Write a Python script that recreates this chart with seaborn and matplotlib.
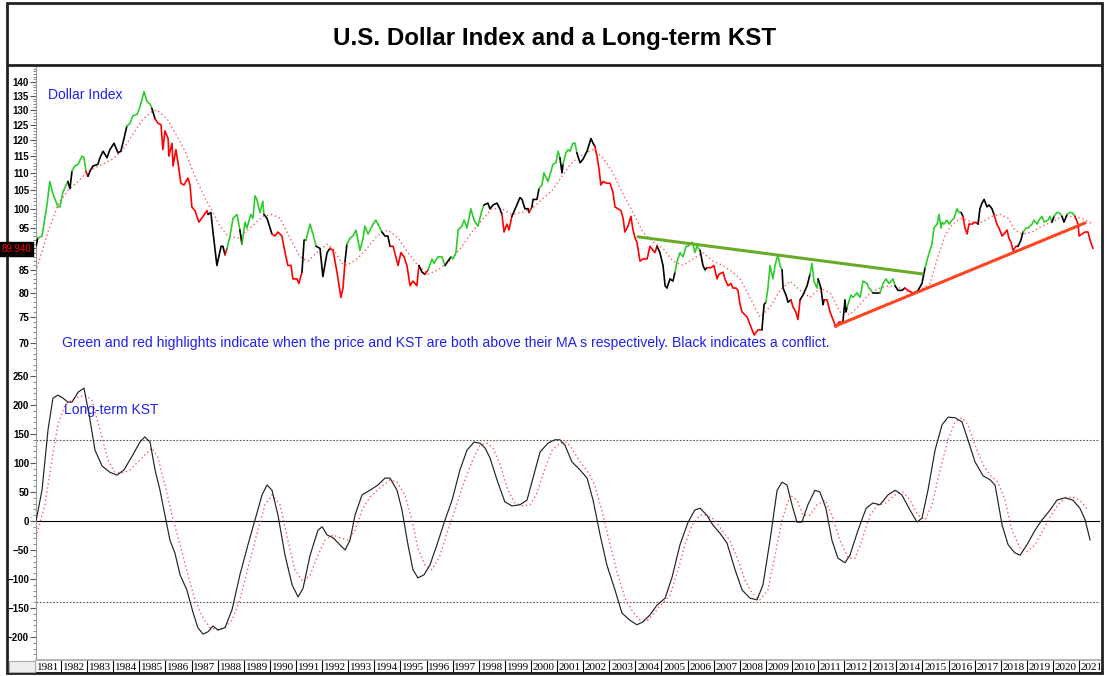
import matplotlib
matplotlib.use("Agg")
import matplotlib.pyplot as plt
from matplotlib.patches import Rectangle
from matplotlib.lines import Line2D
from matplotlib.ticker import FixedLocator, FixedFormatter, NullFormatter
import seaborn as sns

# DATA
price_year = [
    1981.04, 1981.11, 1981.27, 1981.46, 1981.57, 1981.69, 1981.88, 1981.96, 1982.07, 1982.26,
    1982.34, 1982.42, 1982.53, 1982.65, 1982.80, 1982.88, 1982.95, 1983.03, 1983.11, 1983.22,
    1983.41, 1983.49, 1983.61, 1983.76, 1983.87, 1984.03, 1984.18, 1984.29, 1984.41, 1984.52,
    1984.64, 1984.75, 1984.91, 1985.02, 1985.18, 1985.29, 1985.41, 1985.48, 1985.60, 1985.71,
    1985.83, 1985.90, 1985.98, 1986.10, 1986.13, 1986.25, 1986.29, 1986.40, 1986.48, 1986.59,
    1986.71, 1986.86, 1986.94, 1987.01, 1987.13, 1987.28, 1987.44, 1987.59, 1987.63, 1987.74,
    1987.82, 1987.97, 1988.13, 1988.20, 1988.28, 1988.36, 1988.47, 1988.59, 1988.74, 1988.85,
    1988.93, 1989.05, 1989.12, 1989.27, 1989.35, 1989.43, 1989.50, 1989.62, 1989.73, 1989.77,
    1989.89, 1989.96, 1990.08, 1990.19, 1990.31, 1990.46, 1990.58, 1990.69, 1990.81, 1990.88,
    1991.04, 1991.11, 1991.23, 1991.31, 1991.38, 1991.54, 1991.65, 1991.77, 1991.92, 1992.03,
    1992.19, 1992.30, 1992.42, 1992.57, 1992.72, 1992.80, 1992.88, 1992.95, 1993.07, 1993.18,
    1993.30, 1993.45, 1993.57, 1993.64, 1993.76, 1993.95, 1994.06, 1994.18, 1994.29, 1994.41,
    1994.52, 1994.60, 1994.72, 1994.91, 1995.02, 1995.14, 1995.25, 1995.37, 1995.48, 1995.63,
    1995.71, 1995.83, 1995.94, 1996.06, 1996.21, 1996.29, 1996.44, 1996.59, 1996.71, 1996.82,
    1996.94, 1997.01, 1997.13, 1997.21, 1997.36, 1997.44, 1997.55, 1997.70, 1997.82, 1997.97,
    1998.12, 1998.20, 1998.35, 1998.43, 1998.55, 1998.70, 1998.81, 1998.89, 1998.97, 1999.08,
    1999.16, 1999.27, 1999.43, 1999.58, 1999.66, 1999.77, 1999.89, 1999.93, 2000.04, 2000.08,
    2000.23, 2000.31, 2000.42, 2000.50, 2000.65, 2000.77, 2000.84, 2000.96, 2001.04, 2001.11,
    2001.19, 2001.23, 2001.34, 2001.42, 2001.50, 2001.61, 2001.69, 2001.76, 2001.88, 2001.99,
    2002.15, 2002.30, 2002.38, 2002.45, 2002.53, 2002.61, 2002.68, 2002.76, 2002.91, 2003.03,
    2003.14, 2003.22, 2003.33, 2003.45, 2003.53, 2003.60, 2003.72, 2003.83, 2003.91, 2003.99,
    2004.06, 2004.18, 2004.29, 2004.45, 2004.56, 2004.68, 2004.75, 2004.83, 2004.94, 2005.06,
    2005.14, 2005.21, 2005.33, 2005.44, 2005.52, 2005.60, 2005.71, 2005.83, 2005.94, 2006.02,
    2006.17, 2006.21, 2006.28, 2006.36, 2006.48, 2006.59, 2006.67, 2006.74, 2006.90, 2007.01,
    2007.13, 2007.20, 2007.36, 2007.43, 2007.55, 2007.66, 2007.74, 2007.86, 2007.93, 2008.01,
    2008.09, 2008.28, 2008.47, 2008.55, 2008.70, 2008.85, 2008.93, 2009.00, 2009.08, 2009.16,
    2009.27, 2009.35, 2009.46, 2009.54, 2009.62, 2009.66, 2009.77, 2009.85, 2009.96, 2010.04,
    2010.15, 2010.23, 2010.31, 2010.42, 2010.58, 2010.69, 2010.77, 2010.84, 2010.96, 2011.00,
    2011.11, 2011.19, 2011.23, 2011.34, 2011.46, 2011.57, 2011.69, 2011.80, 2011.95, 2012.03,
    2012.07, 2012.11, 2012.26, 2012.34, 2012.49, 2012.61, 2012.72, 2012.87, 2012.95, 2013.10,
    2013.26, 2013.37, 2013.49, 2013.60, 2013.72, 2013.87, 2013.95, 2014.06, 2014.21, 2014.33,
    2014.45, 2014.60, 2014.71, 2014.83, 2014.98, 2015.10, 2015.21, 2015.36, 2015.44, 2015.56,
    2015.63, 2015.71, 2015.75, 2015.82, 2015.94, 2016.02, 2016.13, 2016.21, 2016.32, 2016.40,
    2016.48, 2016.55, 2016.63, 2016.71, 2016.78, 2016.90, 2017.01, 2017.13, 2017.20, 2017.28,
    2017.36, 2017.47, 2017.55, 2017.66, 2017.74, 2017.85, 2017.93, 2018.05, 2018.12, 2018.24,
    2018.31, 2018.39, 2018.47, 2018.58, 2018.66, 2018.77, 2018.85, 2018.97, 2019.04, 2019.20,
    2019.27, 2019.39, 2019.46, 2019.58, 2019.66, 2019.81, 2019.88, 2019.96, 2020.04, 2020.15,
    2020.23, 2020.34, 2020.42, 2020.54, 2020.65, 2020.73, 2020.84, 2020.96, 2021.00, 2021.11,
    2021.23, 2021.34, 2021.42, 2021.53,
]
price_val = [
    90.5, 92.5, 93, 101, 107.5, 104, 100.5, 100.5, 104.5, 107.5,
    105.5, 110.5, 112, 112.5, 115, 114.5, 110.5, 109, 110.5, 112,
    112.5, 114.5, 116.5, 114.5, 117, 119, 116, 116.5, 120.5, 124.5,
    125.5, 128, 128.5, 131, 136.5, 133, 132, 130.5, 127, 125.5,
    125, 117, 123, 120.5, 115, 119, 112, 117, 113, 107,
    106.5, 108.5, 106.5, 100.5, 99.5, 96.5, 98, 99.5, 98.5, 99,
    94, 86, 90.5, 90.5, 88.5, 90, 93, 97.5, 98.5, 94.5,
    91, 96.5, 95, 98.5, 97.5, 103.5, 102.5, 99, 102, 98.5,
    97.5, 96, 93.5, 93, 94, 93, 89, 86, 86, 83,
    83, 82, 84.5, 92, 92, 96, 93.5, 90.5, 90, 83.5,
    89, 90, 89.5, 84.5, 79, 81, 87, 91, 92.5, 93,
    94.5, 89.5, 92.5, 95.5, 93.5, 96, 97, 95.5, 94, 93,
    93, 90.5, 90.5, 86, 89, 88, 86, 81.5, 82.5, 81.5,
    86, 84.5, 84, 85, 87.5, 86.5, 88, 88, 86, 87,
    88, 87.5, 89, 94.5, 95.5, 97, 95, 100, 97, 95.5,
    99.5, 101, 101.5, 100, 101, 101.5, 100, 98.5, 94, 96,
    94.5, 98, 100.5, 103, 102.5, 100, 100, 99, 100.5, 102.5,
    102.5, 105.5, 106.5, 110, 107.5, 110.5, 112.5, 113, 116.5, 114.5,
    110, 112.5, 116, 117, 116.5, 119, 119, 116, 113, 114,
    116.5, 120.5, 119, 118, 115, 111, 106.5, 107.5, 107, 107,
    104.5, 100.5, 100, 99.5, 97.5, 94, 95.5, 98, 94.5, 92.5,
    91.5, 87, 87.5, 87.5, 90.5, 89.5, 89, 90.5, 89, 86,
    81.5, 81, 83, 82.5, 84.5, 87, 89, 88, 90.5, 90.5,
    91.5, 91, 89, 90.5, 89.5, 86, 85, 85.5, 85.5, 86,
    83, 84, 84.5, 83, 81.5, 82, 81, 81, 80.5, 77.5,
    76, 75, 72.5, 71.5, 72.5, 72.5, 77.5, 78, 81, 86,
    83, 86, 88.5, 86, 85, 81, 79.5, 78, 78.5, 77,
    76, 74.5, 78.5, 79.5, 81.5, 84, 86.5, 82.5, 81, 83,
    81, 77.5, 78.5, 78.5, 76, 74.5, 73, 74, 74, 78.5,
    76, 77, 79.5, 79, 80, 79, 82.5, 82, 81, 80,
    80, 80, 82, 83, 82, 83, 81.5, 80.5, 80.5, 81,
    80.5, 80, 80, 80.5, 82, 85.5, 88, 91, 95, 96,
    98.5, 95, 96.5, 96, 97, 96, 97, 97.5, 100, 99,
    99, 98, 95, 93.5, 96, 96, 96.5, 96, 100, 101.5,
    102.5, 100.5, 101, 100, 98.5, 96, 95, 93, 93.5, 94.5,
    92.5, 91.5, 89.5, 90.5, 90.5, 92, 94, 95, 95, 96,
    97, 96, 97, 98, 96.5, 97, 98, 96.5, 98, 99,
    99, 98, 96.5, 98.5, 99, 99, 98, 96, 93, 93.5,
    94, 94, 92, 90,
]
# g = price and KST both above their MAs, r = both below, k = conflict
price_col = list(
    "kggggggggk" "kgggggrkkk" "kkkkkkkkkg" "gggggggkrr" "rrrrrrrrrr"
    "rrrrrrrrkk" "kkkkrggggk" "gggggggggk" "kkrrrrrrrr" "rrkkgggkkk"
    "krrrrrkggg" "ggggggggkk" "krrrrrrrrr" "kkrgggggkk" "gggggggggg"
    "gkkkkkkrrr" "rkkkkkkrkk" "kggggggggk" "kggggggkkk" "kkkrrrrrrr"
    "rrrrrrrrrr" "rrrrrrrkkk" "kkkkgggggg" "ggggkkkrrr" "rrrrrrrrrr"
    "rrrrrkkggg" "ggggkkkkrr" "rrkkkggggk" "kkrrrrrrkk" "kggggggggk"
    "kgggggkkkr" "rrkkkggggg" "gggggggggg" "krrrrrrkkk" "kkkkrrrrrr"
    "rrrrkkgggg" "gggggggkgg" "gkkgggrrrr" "rrrr"
)

ma_year = [
    1981.08, 1981.50, 1981.88, 1982.26, 1982.65, 1983.03, 1983.57, 1983.95, 1984.33, 1984.72,
    1985.10, 1985.48, 1985.67, 1986.06, 1986.36, 1986.75, 1987.13, 1987.51, 1987.70, 1988.09,
    1988.39, 1988.78, 1989.24, 1989.73, 1990.08, 1990.39, 1990.77, 1991.15, 1991.46, 1991.80,
    1992.19, 1992.42, 1992.76, 1992.95, 1993.34, 1993.72, 1994.10, 1994.52, 1994.91, 1995.29,
    1995.67, 1996.06, 1996.44, 1996.98, 1997.36, 1997.74, 1998.12, 1998.51, 1998.89, 1999.27,
    1999.66, 2000.04, 2000.42, 2000.81, 2001.19, 2001.50, 2001.88, 2002.38, 2002.76, 2003.14,
    2003.53, 2003.91, 2004.29, 2004.68, 2005.06, 2005.44, 2005.83, 2006.21, 2006.59, 2006.97,
    2007.36, 2007.74, 2008.01, 2008.39, 2008.77, 2009.16, 2009.54, 2009.93, 2010.31, 2010.69,
    2011.07, 2011.46, 2011.84, 2012.22, 2012.61, 2012.99, 2013.37, 2013.76, 2014.14, 2014.52,
    2014.90, 2015.29, 2015.59, 2015.86, 2016.13, 2016.51, 2016.90, 2017.28, 2017.66, 2017.97,
    2018.28, 2018.54, 2018.81, 2019.20, 2019.58, 2019.96, 2020.34, 2020.73, 2021.11, 2021.53,
]
ma_val = [
    85.5, 94, 101, 105, 107.5, 110.5, 112.5, 114, 116.5, 121.5,
    126.5, 129.5, 130, 127, 122.5, 116.5, 109, 103, 100.5, 95.5,
    93, 92.5, 95, 98, 98.5, 97.5, 92.5, 88, 87, 89,
    91, 90, 86.5, 86, 87.5, 90, 93, 94.5, 92.5, 89,
    86, 84, 85, 87.5, 90.5, 94, 97, 100, 100, 98.5,
    99, 100, 102.5, 105, 109, 112.5, 115, 117, 114.5, 110,
    104, 99, 94, 91.5, 90, 87, 86, 87.5, 89, 87,
    86, 84.5, 83, 79, 75, 77, 80.5, 82.5, 80.5, 79,
    81, 80, 76, 75.5, 77.5, 80, 81, 81.5, 81, 80,
    80.5, 82, 88, 93, 96, 97.5, 96.5, 96.5, 98, 98.5,
    97.5, 94.5, 93.5, 94, 95.5, 96.5, 98, 98, 97.5, 96,
]

kst_year = [
    1981.04, 1981.27, 1981.50, 1981.69, 1981.88, 1982.07, 1982.26, 1982.42, 1982.65, 1982.88,
    1983.11, 1983.30, 1983.57, 1983.87, 1984.14, 1984.41, 1984.75, 1985.02, 1985.21, 1985.41,
    1985.60, 1985.79, 1985.98, 1986.17, 1986.36, 1986.56, 1986.82, 1987.05, 1987.24, 1987.44,
    1987.63, 1987.82, 1988.01, 1988.28, 1988.55, 1988.85, 1989.16, 1989.43, 1989.70, 1989.89,
    1990.08, 1990.31, 1990.58, 1990.85, 1991.08, 1991.27, 1991.54, 1991.84, 1992.00, 1992.19,
    1992.42, 1992.68, 1992.88, 1993.07, 1993.26, 1993.53, 1993.83, 1994.14, 1994.41, 1994.60,
    1994.87, 1995.06, 1995.29, 1995.48, 1995.67, 1995.90, 1996.13, 1996.40, 1996.71, 1996.98,
    1997.28, 1997.55, 1997.82, 1998.05, 1998.24, 1998.43, 1998.70, 1999.00, 1999.27, 1999.58,
    1999.85, 2000.08, 2000.35, 2000.65, 2000.92, 2001.11, 2001.30, 2001.57, 2001.88, 2002.15,
    2002.38, 2002.65, 2002.91, 2003.22, 2003.49, 2003.79, 2004.06, 2004.29, 2004.56, 2004.83,
    2005.14, 2005.40, 2005.71, 2006.02, 2006.28, 2006.48, 2006.74, 2006.97, 2007.24, 2007.51,
    2007.82, 2008.09, 2008.39, 2008.66, 2008.89, 2009.16, 2009.43, 2009.62, 2009.81, 2010.00,
    2010.19, 2010.38, 2010.61, 2010.88, 2011.07, 2011.30, 2011.53, 2011.76, 2012.03, 2012.22,
    2012.53, 2012.84, 2013.10, 2013.37, 2013.68, 2013.95, 2014.21, 2014.52, 2014.79, 2014.98,
    2015.21, 2015.48, 2015.75, 2015.98, 2016.25, 2016.51, 2016.74, 2017.01, 2017.32, 2017.59,
    2017.78, 2018.05, 2018.28, 2018.54, 2018.74, 2019.00, 2019.31, 2019.58, 2019.89, 2020.15,
    2020.46, 2020.76, 2021.03, 2021.23, 2021.42,
]
kst_val = [
    0, 53, 157, 212, 217, 212, 205, 205, 222, 229,
    174, 122, 95, 84, 79, 88, 114, 136, 145, 136,
    88, 53, 10, -33, -55, -93, -119, -157, -184, -195,
    -191, -181, -188, -184, -153, -93, -41, 2, 45, 62,
    53, 10, -59, -110, -131, -116, -59, -16, -10, -24,
    -29, -41, -50, -33, 10, 45, 53, 62, 74, 74,
    53, 19, -41, -84, -98, -93, -76, -41, 2, 36,
    88, 122, 136, 134, 126, 109, 71, 33, 26, 28,
    36, 74, 119, 134, 140, 140, 131, 102, 88, 74,
    36, -24, -76, -119, -159, -171, -179, -174, -162, -145,
    -133, -98, -41, -2, 19, 22, 10, -7, -21, -38,
    -84, -119, -133, -136, -110, -33, 53, 67, 62, 28,
    -2, -2, 28, 53, 50, 22, -33, -64, -72, -59,
    -16, 22, 31, 28, 45, 53, 45, 19, -2, 5,
    53, 122, 166, 179, 178, 171, 140, 102, 78, 71,
    62, -7, -41, -55, -59, -41, -16, 2, 19, 36,
    40, 36, 22, 2, -33,
]

kstma_year = [
    1981.04, 1981.38, 1981.65, 1981.88, 1982.15, 1982.53, 1982.92, 1983.18, 1983.49, 1983.80,
    1984.06, 1984.37, 1984.64, 1984.95, 1985.21, 1985.48, 1985.71, 1985.98, 1986.25, 1986.56,
    1986.86, 1987.13, 1987.44, 1987.70, 1988.01, 1988.28, 1988.55, 1988.85, 1989.24, 1989.54,
    1989.81, 1990.08, 1990.39, 1990.69, 1990.96, 1991.27, 1991.54, 1991.84, 1992.11, 1992.42,
    1992.68, 1992.99, 1993.26, 1993.53, 1993.83, 1994.22, 1994.60, 1994.87, 1995.17, 1995.44,
    1995.67, 1995.94, 1996.21, 1996.52, 1996.82, 1997.09, 1997.40, 1997.74, 1998.05, 1998.32,
    1998.55, 1998.82, 1999.12, 1999.39, 1999.70, 1999.97, 2000.23, 2000.54, 2000.81, 2001.11,
    2001.38, 2001.61, 2001.88, 2002.19, 2002.45, 2002.76, 2003.03, 2003.33, 2003.60, 2003.91,
    2004.18, 2004.48, 2004.75, 2005.06, 2005.33, 2005.64, 2005.90, 2006.17, 2006.48, 2006.74,
    2007.05, 2007.32, 2007.62, 2007.93, 2008.20, 2008.47, 2008.77, 2009.08, 2009.35, 2009.62,
    2009.93, 2010.19, 2010.42, 2010.69, 2010.96, 2011.27, 2011.53, 2011.84, 2012.15, 2012.42,
    2012.68, 2012.99, 2013.30, 2013.60, 2013.95, 2014.25, 2014.52, 2014.83, 2015.10, 2015.37,
    2015.67, 2015.98, 2016.25, 2016.51, 2016.74, 2017.01, 2017.32, 2017.59, 2017.89, 2018.16,
    2018.43, 2018.74, 2019.00, 2019.31, 2019.62, 2019.89, 2020.19, 2020.50, 2020.76, 2021.03,
    2021.34,
]
kstma_val = [
    -28, 28, 105, 166, 200, 212, 217, 209, 157, 105,
    84, 83, 88, 102, 114, 126, 109, 62, 10, -41,
    -93, -136, -167, -184, -188, -183, -171, -136, -67, -16,
    28, 45, 28, -33, -84, -105, -93, -59, -33, -24,
    -29, -33, -16, 19, 41, 57, 71, 67, 45, 2,
    -47, -76, -84, -59, -16, 19, 62, 102, 131, 134,
    126, 97, 53, 31, 26, 28, 48, 91, 122, 134,
    136, 122, 102, 84, 62, 10, -41, -93, -133, -157,
    -171, -171, -157, -141, -128, -84, -41, -7, 10, 10,
    2, -16, -33, -67, -102, -124, -136, -119, -59, 2,
    45, 36, 10, 10, 28, 36, 10, -33, -64, -64,
    -33, 10, 28, 31, 45, 50, 36, 10, 2, 28,
    88, 140, 171, 178, 166, 131, 97, 79, 67, 36,
    -16, -47, -53, -41, -16, 7, 28, 40, 41, 36,
    19,
]

# hand-drawn trend lines on the price panel
green_tl_year = [2004.10, 2014.99]
green_tl_val = [92.8, 84.1]
red_tl_year = [2011.65, 2021.23]
red_tl_val = [73.2, 96.3]

kst_bands = [140, -140]
price_ticks = list(range(70, 145, 5))
# the 90 label sits under the last-value box in the original
price_labels = ["" if t == 90 else str(t) for t in price_ticks]
kst_ticks = list(range(-200, 251, 50))
years = list(range(1981, 2022))
last_value = "89.940"

title = "U.S. Dollar Index and a Long-term KST"
note = ("Green and red highlights indicate when the price and KST are both above "
        "their MA s respectively. Black indicates a conflict.")

# STYLE
sns.set_theme(style="white")
plt.rcParams["font.family"] = ["Liberation Sans", "DejaVu Sans"]
plt.rcParams["text.color"] = "black"
plt.rcParams["ytick.labelcolor"] = "black"

W, H = 1107, 676
fig = plt.figure(figsize=(W / 100, H / 100), dpi=100)


def box(l, t, r, b):
    return [l / W, 1 - b / H, (r - l) / W, (b - t) / H]


ax1 = fig.add_axes(box(36, 66, 1100, 368))
ax2 = fig.add_axes(box(36, 368, 1100, 660), sharex=ax1)
ax3 = fig.add_axes(box(36, 660, 1100, 673), sharex=ax1)

col_map = {"g": "#2ccc2c", "r": "#ff0000", "k": "#000000"}
blue = "#2020f0"

# price line, coloured run by run
n = len(price_year)
start = 0
for i in range(1, n):
    if i == n - 1 or price_col[i] != price_col[start]:
        ax1.plot(price_year[start:i + 1], price_val[start:i + 1],
                 color=col_map[price_col[start]], lw=1.2, zorder=3)
        start = i

sns.lineplot(x=ma_year, y=ma_val, ax=ax1, color="#ff5a5a", lw=1.0,
             linestyle=(0, (1, 2)), estimator=None, sort=False, zorder=2)
ax1.plot(green_tl_year, green_tl_val, color="#6aaa2a", lw=2.2, zorder=4)
ax1.plot(red_tl_year, red_tl_val, color="#ff4422", lw=2.2, zorder=4)

ax1.set_yscale("log")
ax1.set_xlim(1981.04, 2021.8)
ax1.set_ylim(65.5, 146.1)
ax1.yaxis.set_major_locator(FixedLocator(price_ticks))
ax1.yaxis.set_major_formatter(FixedFormatter(price_labels))
ax1.yaxis.set_minor_locator(FixedLocator(list(range(66, 146))))
ax1.yaxis.set_minor_formatter(NullFormatter())

# KST panel
sns.lineplot(x=kstma_year, y=kstma_val, ax=ax2, color="#ff5a5a", lw=1.0,
             linestyle=(0, (1, 2)), estimator=None, sort=False, zorder=2)
sns.lineplot(x=kst_year, y=kst_val, ax=ax2, color="#222222", lw=0.85,
             estimator=None, sort=False, zorder=3)
for b in kst_bands:
    ax2.axhline(b, color="#555555", lw=0.8, linestyle=(0, (1.5, 1.5)), zorder=1)
ax2.axhline(0, color="black", lw=0.8, zorder=1)
ax2.set_ylim(-239.7, 263.8)
ax2.yaxis.set_major_locator(FixedLocator(kst_ticks))
ax2.yaxis.set_minor_locator(FixedLocator(list(range(-230, 261, 10))))
ax2.yaxis.set_minor_formatter(NullFormatter())

for ax in (ax1, ax2):
    ax.set_xlabel("")
    ax.set_ylabel("")
    for s in ("top", "right", "bottom"):
        ax.spines[s].set_visible(False)
    ax.spines["left"].set_color("#999999")
    ax.spines["left"].set_linewidth(0.8)
    ax.tick_params(axis="x", bottom=False, labelbottom=False)
    ax.tick_params(axis="y", which="major", left=True, length=4, width=0.8,
                   color="#555555", labelsize=7, pad=1, labelcolor="black")
    ax.tick_params(axis="y", which="minor", left=True, length=2, width=0.6,
                   color="#777777")
    for lab in ax.get_yticklabels():
        lab.set_fontweight("bold")

# year strip
ax3.set_ylim(0, 1)
ax3.set_yticks([])
ax3.tick_params(axis="x", bottom=False, labelbottom=False)
for yr in years:
    ax3.axvline(yr, color="black", lw=0.8)
    ax3.text(yr + 0.07, 0.42, str(yr), fontsize=8, family="Liberation Serif",
             ha="left", va="center", clip_on=True)
for s in ("left", "right"):
    ax3.spines[s].set_visible(False)
ax3.spines["top"].set_color("#aaaaaa")
ax3.spines["bottom"].set_color("black")

# texts
fig.text(555 / W, 1 - 38 / H, title, ha="center", va="center",
         fontsize=17.4, fontweight="bold", color="black")
fig.text(48 / W, 1 - 95 / H, "Dollar Index", color=blue, fontsize=10,
         ha="left", va="center")
fig.text(62 / W, 1 - 343 / H, note, color=blue, fontsize=10.1,
         ha="left", va="center")
fig.text(64 / W, 1 - 410 / H, "Long-term KST", color=blue, fontsize=10,
         ha="left", va="center")
fig.text(1.5 / W, 1 - 249 / H, last_value, color="red", fontsize=7,
         ha="left", va="center",
         bbox=dict(facecolor="black", edgecolor="black", pad=1.3))

# frame
fig.patches.append(Rectangle((7 / W, 1 - 673 / H), 1095 / W, 670 / H,
                             transform=fig.transFigure, fill=False,
                             edgecolor="#222222", lw=2))
fig.lines.append(Line2D([7 / W, 1102 / W], [1 - 65 / H, 1 - 65 / H],
                        transform=fig.transFigure, color="#222222", lw=2))
fig.patches.append(Rectangle((9 / W, 1 - 672 / H), 26 / W, 11 / H,
                             transform=fig.transFigure, facecolor="#eeeeee",
                             edgecolor="#aaaaaa", lw=0.8))

fig.savefig("out.png", dpi=100)
